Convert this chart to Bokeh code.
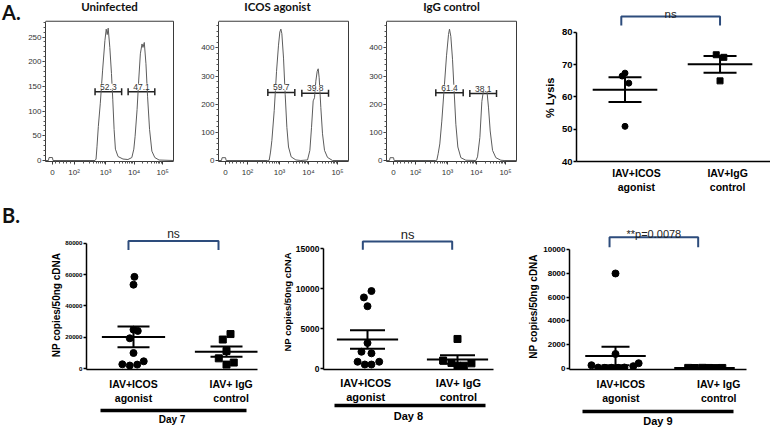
import numpy as np
from bokeh.plotting import figure
from bokeh.layouts import row, column
from bokeh.models import (Range1d, FixedTicker, LinearAxis, Whisker, TeeHead, Div,
                          ColumnDataSource, NumeralTickFormatter)
from bokeh.core.properties import value
from bokeh.embed import file_html
from bokeh.resources import INLINE

# ---------------- data ----------------
# Panel A: flow histograms; x in display units (biexponential: "0", 10^2 .. 10^5)
hist_titles = ["Uninfected", "ICOS agonist", "IgG control"]
flow_ticks = [1.138, 1.897, 3, 4, 5]
flow_tick_labels = ["0", "10²", "10³", "10⁴", "10⁵"]

uninf_x = [0.897, 1.00, 1.02, 1.14, 1.16, 2.632, 2.667, 2.701, 2.747, 2.816, 2.897, 2.977, 3.023,
           3.057, 3.092, 3.149, 3.207, 3.253, 3.299, 3.345, 3.437, 3.609, 3.782, 3.920, 3.989,
           4.034, 4.103, 4.161, 4.218, 4.276, 4.310, 4.356, 4.414, 4.471, 4.540, 4.621, 4.724,
           4.874, 5.379]
uninf_y = [0, 0, 6, 6, 0, 0, 3, 29, 69, 116, 183, 243, 266, 255, 268, 229, 176, 123, 63, 23, 8,
           3, 2, 6, 23, 49, 103, 163, 216, 236, 229, 239, 196, 129, 63, 19, 6, 1, 0]
icos_x = [0.897, 1.00, 1.02, 1.14, 1.16, 2.587, 2.645, 2.691, 2.737, 2.818, 2.898, 2.966, 3.012,
          3.047, 3.081, 3.139, 3.196, 3.254, 3.311, 3.403, 3.564, 3.736, 3.966, 4.047, 4.104,
          4.161, 4.207, 4.253, 4.299, 4.334, 4.368, 4.425, 4.483, 4.552, 4.655, 4.828, 5.379]
icos_y = [0, 0, 10, 10, 0, 0, 1, 30, 71, 177, 317, 410, 457, 467, 451, 364, 235, 118, 48, 13, 2,
          0, 2, 36, 118, 212, 223, 282, 317, 326, 294, 188, 95, 36, 11, 0, 0]
igg_x = [0.897, 1.00, 1.02, 1.14, 1.16, 2.598, 2.632, 2.678, 2.735, 2.804, 2.885, 2.966, 3.035,
         3.069, 3.115, 3.173, 3.230, 3.288, 3.357, 3.461, 3.633, 3.978, 4.035, 4.116, 4.185,
         4.242, 4.300, 4.357, 4.415, 4.472, 4.553, 4.667, 4.840, 4.950, 5.379]
igg_y = [0, 0, 10, 10, 0, 0, 1, 24, 59, 140, 256, 372, 448, 467, 441, 360, 245, 129, 48, 10, 1,
         0, 13, 82, 210, 250, 262, 250, 187, 105, 36, 10, 1, 0, 0]

uninf_gate_lo = [2.632, 3.790]
uninf_gate_hi = [3.563, 4.724]
uninf_gate_level = [139, 139]
uninf_gate_pct = ["52.3", "47.1"]
icos_gate_lo = [2.598, 3.770]
icos_gate_hi = [3.528, 4.690]
icos_gate_level = [242, 239]
icos_gate_pct = ["59.7", "39.8"]
igg_gate_lo = [2.597, 3.770]
igg_gate_hi = [3.541, 4.690]
igg_gate_level = [241, 238]
igg_gate_pct = ["61.4", "38.1"]

# Panel A: % lysis
lysis_agonist = [67.4, 66.5, 64.3, 50.9]
lysis_agonist_jitter = [0.0, -0.03, 0.04, 0.0]
lysis_control = [73.1, 72.3, 65.0]
lysis_control_jitter = [-0.04, 0.04, 0.0]
lysis_labels = ["IAV+ICOS\nagonist", "IAV+IgG\ncontrol"]

# Panel B: NP copies
np_labels = ["IAV+ICOS\nagonist", "IAV+ IgG\ncontrol"]
d7_agonist = [58500, 53500, 24800, 24000, 19300, 9900, 2700, 1900, 2500, 4600]
d7_agonist_jitter = [0.01, 0.0, 0.0, 0.046, -0.04, 0.0, -0.12, -0.04, 0.04, 0.11]
d7_control = [18500, 22000, 11200, 6500, 2500, 3800]
d7_control_jitter = [-0.04, 0.043, 0.0, -0.083, 0.0, 0.078]
d8_agonist = [9700, 8900, 7800, 3200, 2100, 1900, 850, 500, 500, 850]
d8_agonist_jitter = [0.044, -0.04, 0.0, 0.0, -0.067, 0.044, -0.11, -0.03, 0.044, 0.13]
d8_control = [3700, 1000, 700, 350, 350, 650]
d8_control_jitter = [0.0, -0.16, -0.067, 0.0, 0.07, 0.155]
d9_agonist = [8000, 1200, 250, 50, 30, 30, 30, 60, 170, 420]
d9_agonist_jitter = [0.0, 0.0, -0.27, -0.195, -0.12, -0.045, 0.03, 0.10, 0.20, 0.26]
d9_control = [25, 15, 30, 20, 10, 20]
d9_control_jitter = [-0.183, -0.11, -0.025, 0.048, 0.124, 0.2]
day_labels = ["Day 7", "Day 8", "Day 9"]
sig_labels = ["ns", "ns", "**p=0.0078"]
lysis_sig = "ns"
np_axis_label = "NP copies/50ng cDNA"
lysis_axis_label = "% Lysis"
panel_letters = ["A.", "B."]

# ---------------- style ----------------
FONT = "Liberation Sans"
HFONT = "Lato"
BLUE = "#2D4C7C"
TOP_H = 198
BOT_H = 234
X0, X1 = 0.897, 5.379
X1E = X1 + (X1 - X0) / 130.0
NB = "\u00a0"


def base_fig(width, height, xr, yr, mbl, mbr, mbt, mbb):
    p = figure(width=width, height=height, x_range=Range1d(*xr), y_range=Range1d(*yr),
               min_border_left=mbl, min_border_right=mbr, min_border_top=mbt,
               min_border_bottom=mbb, toolbar_location=None, output_backend="svg",
               background_fill_color="white", border_fill_color="white")
    p.grid.visible = False
    p.outline_line_color = None
    return p


def letter_div(width, height, text, top):
    html = (f'<div style="margin:{top}px 0 0 2px;font-family:Lato;font-weight:bold;'
            f'font-size:20px;line-height:20px;color:#111111;white-space:nowrap">{text}</div>')
    return Div(text=html, width=width, height=height, margin=0,
               styles={"overflow": "hidden", "padding": "0", "margin": "0"})


def hist_panel(width, mbl, mbr, title, toff, xs, ys, y0, y1, yticks, yminor,
               glo, ghi, glvl, gtxt):
    per_px = (y1 - y0) / 142.0
    ytop = y1 + 21 * per_px
    p = base_fig(width, TOP_H, (X0, X1E), (y0, ytop), mbl, mbr, 0, 35)
    edge = "#3a3a3a"
    p.line([X0, X1, X1], [y1, y1, y0], line_color=edge, line_width=1)
    p.line(xs, ys, line_color="#5c5c5c", line_width=1)
    src = ColumnDataSource(dict(base=glvl, lower=glo, upper=ghi))
    p.add_layout(Whisker(source=src, base="base", lower="lower", upper="upper",
                         dimension="width", line_color="#222222", line_width=1.5,
                         upper_head=TeeHead(size=7, line_color="#222222", line_width=1.5),
                         lower_head=TeeHead(size=7, line_color="#222222", line_width=1.5)))
    centers = [(a + b) / 2 for a, b in zip(glo, ghi)]
    p.text(x=centers, y=glvl, text=gtxt, text_font=value(FONT), text_font_size="8.5px",
           text_color="#333333", text_align="center", text_baseline="bottom", y_offset=-2,
           background_fill_color="white")
    p.text(x=[(X0 + X1) / 2], y=[y1], text=[title], text_font=value(HFONT),
           text_font_style="bold", text_font_size="11.5px", text_color="#111111",
           text_align="center", text_baseline="alphabetic", x_offset=toff, y_offset=-15)
    minor_x = ([1.138 + k * (1.897 - 1.138) / 6 for k in range(1, 6)] +
               [1.897 + 1.103 * np.log10(k) for k in range(2, 10)] +
               [d + np.log10(k) for d in (3, 4) for k in range(2, 10)])
    p.xaxis.ticker = FixedTicker(ticks=flow_ticks, minor_ticks=minor_x)
    p.xaxis.major_label_overrides = dict(zip(flow_ticks, flow_tick_labels))
    p.xaxis.bounds = (X0, X1)
    p.yaxis.ticker = FixedTicker(ticks=yticks, minor_ticks=yminor)
    p.yaxis.bounds = (y0, y1)
    for ax in (p.xaxis[0], p.yaxis[0]):
        ax.axis_line_color = edge
        ax.major_tick_line_color = edge
        ax.minor_tick_line_color = "#555555"
        ax.major_tick_out = 3
        ax.major_tick_in = 0
        ax.minor_tick_out = 2
        ax.minor_tick_in = 0
        ax.major_label_text_font = FONT
        ax.major_label_text_font_size = "8px"
        ax.major_label_text_color = "#333333"
        ax.major_label_standoff = 1
    p.xaxis.major_label_standoff = 3
    return p


def dot_groups(p, groups, half=0.34, cap=32, msize=7):
    for xc, vals, jit, marker in groups:
        vals = np.asarray(vals, dtype=float)
        xs = xc + np.asarray(jit)
        m = vals.mean()
        s = vals.std(ddof=1) / np.sqrt(len(vals))
        src = ColumnDataSource(dict(base=[xc], lower=[m - s], upper=[m + s]))
        p.add_layout(Whisker(source=src, base="base", lower="lower", upper="upper",
                             dimension="height", line_color="black", line_width=2,
                             upper_head=TeeHead(size=cap, line_color="black", line_width=2),
                             lower_head=TeeHead(size=cap, line_color="black", line_width=2)))
        p.segment(x0=[xc - half], x1=[xc + half], y0=[m], y1=[m], line_color="black",
                  line_width=2)
        p.scatter(xs, vals, marker=marker, size=msize, color="black")


def bracket(p, x0, x1, ytop, leg, text, fs, up):
    p.line([x0, x0, x1, x1], [ytop - leg, ytop, ytop, ytop - leg], line_color=BLUE,
           line_width=2)
    p.text(x=[(x0 + x1) / 2], y=[ytop], text=[text], text_font=value(FONT),
           text_font_size=fs, text_color="#222222", text_align="center",
           text_baseline="alphabetic", y_offset=-up)


def style_y(ax, ticks, bounds, fs, lab, lab_fs, lab_standoff):
    ax.ticker = FixedTicker(ticks=ticks)
    ax.bounds = bounds
    ax.formatter = NumeralTickFormatter(format="0")
    ax.axis_line_width = 1.5
    ax.axis_line_color = "black"
    ax.major_tick_line_width = 1.5
    ax.major_tick_out = 3
    ax.major_tick_in = 0
    ax.minor_tick_line_color = None
    ax.major_label_text_font = FONT
    ax.major_label_text_font_style = "bold"
    ax.major_label_text_font_size = fs
    ax.major_label_text_color = "black"
    ax.major_label_standoff = 1
    ax.axis_label = lab
    ax.axis_label_text_font = FONT
    ax.axis_label_text_font_style = "bold"
    ax.axis_label_text_font_size = lab_fs
    ax.axis_label_text_color = "black"
    ax.axis_label_standoff = lab_standoff


def style_x(ax, ticks, labels, fs, standoff):
    ax.ticker = FixedTicker(ticks=ticks)
    ax.major_label_overrides = dict(zip(ticks, labels))
    ax.axis_line_width = 1.5
    ax.axis_line_color = "black"
    ax.major_tick_line_color = None
    ax.major_tick_out = 0
    ax.major_tick_in = 0
    ax.minor_tick_line_color = None
    ax.major_label_text_font = FONT
    ax.major_label_text_font_style = "bold"
    ax.major_label_text_font_size = fs
    ax.major_label_text_color = "black"
    ax.major_label_standoff = standoff


# ---------------- top row ----------------
la = letter_div(25, TOP_H, panel_letters[0], 2)
h1 = hist_panel(170, 18, 21, hist_titles[0], 0, uninf_x, uninf_y, -2, 282,
                [0, 50, 100, 150, 200, 250], list(range(10, 281, 10)),
                uninf_gate_lo, uninf_gate_hi, uninf_gate_level, uninf_gate_pct)
h2 = hist_panel(170, 23, 16, hist_titles[1], -6, icos_x, icos_y, -3.5, 495,
                [0, 100, 200, 300, 400], list(range(20, 481, 20)),
                icos_gate_lo, icos_gate_hi, icos_gate_level, icos_gate_pct)
h3 = hist_panel(175, 21, 23, hist_titles[2], 0, igg_x, igg_y, -3.5, 495,
                [0, 100, 200, 300, 400], list(range(20, 481, 20)),
                igg_gate_lo, igg_gate_hi, igg_gate_level, igg_gate_pct)

lys = base_fig(230, TOP_H, (0.4896, 2.531), (40, 89.92), 34, 0, 0, 37)
style_y(lys.yaxis[0], [40, 50, 60, 70, 80], (40, 80), "9.5px", lysis_axis_label + NB * 11,
        "11px", 3)
style_x(lys.xaxis[0], [1.12, 2.08], lysis_labels, "10.5px", 5)
dot_groups(lys, [(1, lysis_agonist, lysis_agonist_jitter, "circle"),
                 (2, lysis_control, lysis_control_jitter, "square")],
           half=0.34, cap=33, msize=6)
bracket(lys, 0.961, 2.0, 84.96, 2.8, lysis_sig, "11.5px", 2)


# ---------------- bottom row ----------------
def np_panel(width, mbl, mbr, mbb, xr, yr, yticks, tick_fs, ylab_fs, ylab_so, ylab_pad,
             groups, label_ticks, xlab_fs, xlab_so, spacer, under, day, day_fs, day_so,
             br, sig, sig_fs, sig_up, cap=32):
    p = base_fig(width, BOT_H, xr, yr, mbl, mbr, 20, mbb)
    style_y(p.yaxis[0], yticks, (yr[0], yticks[-1]), tick_fs, np_axis_label + NB * ylab_pad,
            ylab_fs, ylab_so)
    xa = p.xaxis[0]
    style_x(xa, label_ticks, np_labels, xlab_fs, xlab_so)
    if spacer:
        xa.axis_label = " "
        xa.axis_label_text_font_size = f"{spacer}px"
        xa.axis_label_standoff = 0
    ua = LinearAxis(ticker=FixedTicker(ticks=[]), bounds=under, axis_line_width=3.5,
                    axis_line_color="black", major_tick_out=0, major_tick_in=0,
                    minor_tick_out=0, minor_tick_in=0, major_label_standoff=0,
                    axis_label=day, axis_label_text_font=FONT,
                    axis_label_text_font_style="bold", axis_label_text_font_size=day_fs,
                    axis_label_text_line_height=1.0,
                    axis_label_text_color="black", axis_label_standoff=day_so)
    p.add_layout(ua, "below")
    dot_groups(p, groups, cap=cap)
    bracket(p, *br, sig, sig_fs, sig_up)
    return p


lb = letter_div(25, BOT_H, panel_letters[1], 7)
d7 = np_panel(237, 61, 5, 61, (0.4946, 2.3333), (-630, 95760),
              [0, 20000, 40000, 60000, 80000], "6.2px", "10px", 0, 8,
              [(1, d7_agonist, d7_agonist_jitter, "circle"),
               (2, d7_control, d7_control_jitter, "square")],
              [1.0, 2.05], "10.5px", 8, 0.5, (0.645, 2.215), day_labels[0], "10px", 3,
              (0.946, 1.914, 81460, 5860), sig_labels[0], "12px", 7.4, cap=32)
d8 = np_panel(248, 61, 17, 59, (0.511, 2.4), (-122, 18780),
              [0, 5000, 10000, 15000], "8.5px", "9.5px", 0, 6,
              [(1, d8_agonist, d8_agonist_jitter, "circle"),
               (2, d8_control, d8_control_jitter, "square")],
              [0.98, 2.01], "11px", 7, 0, (0.633, 2.311), day_labels[1], "11px", 4,
              (0.948, 1.941, 15890, 1015), sig_labels[1], "13px", 6.7, cap=35)
d9 = np_panel(260, 59, 24, 63, (0.4831, 2.4719), (-110, 12644),
              [0, 2000, 4000, 6000, 8000, 10000], "8px", "10px", 1, 9,
              [(1, d9_agonist, d9_agonist_jitter, "circle"),
               (2, d9_control, d9_control_jitter, "square")],
              [1.06, 2.16], "10.5px", 8, 1, (0.629, 2.326), day_labels[2], "11px", 3,
              (0.933, 1.929, 11064, 845), sig_labels[2], "11px", 3, cap=28)

layout = column(row(la, h1, h2, h3, lys), row(lb, d7, d8, d9))
open("out.html", "w").write(file_html(layout, INLINE))
